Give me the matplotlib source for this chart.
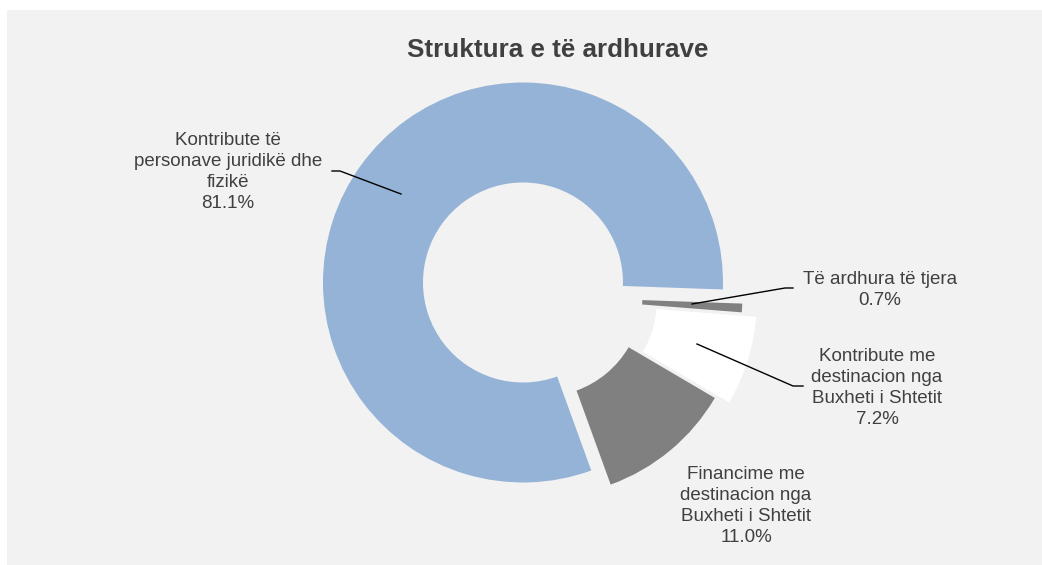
import matplotlib
matplotlib.use("Agg")
import matplotlib.pyplot as plt
from matplotlib.patches import Rectangle

plt.rcParams['font.family'] = ['Liberation Sans', 'DejaVu Sans']

# data
labels = ["Kontribute të\npersonave juridikë dhe\nfizikë",
          "Financime me\ndestinacion nga\nBuxheti i Shtetit",
          "Kontribute me\ndestinacion nga\nBuxheti i Shtetit",
          "Të ardhura të tjera"]
shares = [81.1, 11.0, 7.2, 0.7]
colors = ["#95B3D7", "#808080", "#FFFFFF", "#808080"]
explode = [0.12, 0.0, 0.075, 0.0]

# label placement in pixels (centre x, centre y) and leader lines
label_pos = [(228, 172), (746, 506), (877, 388), (880, 290)]
leaders = [[(332, 171), (340, 171), (401, 194)],
           None,
           [(803, 386), (793, 386), (697, 344)],
           [(793, 288), (785, 288), (692, 304)]]

W, H = 1042, 565
cx, cy, R = 542.4, 296.6, 200.0  # pie centre / radius in px

def px(x, y):
  return (x - cx) / R, (cy - y) / R

fig = plt.figure(figsize=(W / 100, H / 100), dpi=100, facecolor="white")
fig.patches.append(Rectangle((7 / W, 0), 1 - 7 / W, (H - 10) / H,
                             transform=fig.transFigure, facecolor="#F2F2F2",
                             edgecolor="none", zorder=-10))
ax = fig.add_axes([0, 0, 1, 1])
ax.patch.set_alpha(0)

ax.pie(shares, colors=colors, explode=explode, startangle=-2,
       counterclock=True, radius=1.0,
       wedgeprops=dict(width=0.5, edgecolor="none"))

ax.set_aspect("auto")
ax.set_xlim(-cx / R, (W - cx) / R)
ax.set_ylim(-(H - cy) / R, cy / R)
ax.axis("off")

txtcol = "#404040"
for lab, val, pos, ld in zip(labels, shares, label_pos, leaders):
  x, y = px(*pos)
  ax.text(x, y, "%s\n%.1f%%" % (lab, val), ha="center", va="center",
          fontsize=13.5, color=txtcol, linespacing=1.32)
  if ld is not None:
    xs = [px(a, b)[0] for a, b in ld]
    ys = [px(a, b)[1] for a, b in ld]
    ax.plot(xs, ys, color="black", lw=1.0)

tx, ty = px(558, 50)
ax.text(tx, ty, "Struktura e të ardhurave", ha="center", va="center",
        fontsize=18.7, fontweight="bold", color=txtcol)

fig.savefig("out.png", dpi=100)
